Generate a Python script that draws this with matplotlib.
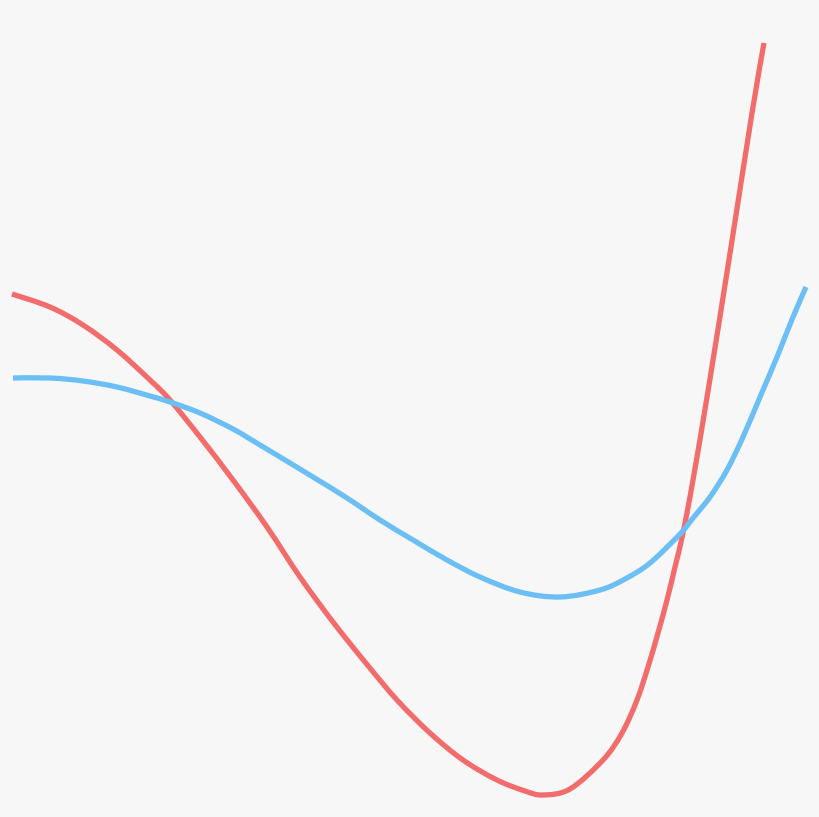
import numpy as np
import matplotlib
matplotlib.use("Agg")
import matplotlib.pyplot as plt
from matplotlib.path import Path
from matplotlib.patches import PathPatch

W, H = 820, 817

# values (x to the right, y upward, in picture units)
red_x = [12, 50, 83, 117, 150, 170, 200, 233, 267, 300, 333, 365, 397, 430,
         463, 497, 525, 543, 570, 603, 622, 637, 648, 658, 667, 675, 683,
         693, 709, 731, 752, 764]
red_y = [523, 510, 492, 467, 437, 417, 380, 337, 290, 240, 195, 155, 117, 84,
         57, 37, 26, 22, 28, 57, 84, 117, 150, 184, 217, 250, 284,
         337, 432, 570, 704, 774]

blue_x = [13, 50, 83, 117, 150, 170, 200, 233, 260, 280, 313, 347, 380, 413,
          447, 480, 520, 560, 600, 625, 650, 680, 693, 710, 727, 743,
          760, 777, 793, 806]
blue_y = [439, 439, 436, 430, 421, 415, 404, 388, 372, 360, 340, 319, 297, 277,
          257, 240, 225, 220, 227, 238, 254, 283, 299, 320, 347, 380,
          420, 460, 500, 530]


def smooth_path(xs, ys):
    # catmull-rom -> cubic bezier, curve passes through every read point
    p = np.column_stack([xs, ys]).astype(float)
    p = np.vstack([p[0], p, p[-1]])
    verts = [p[1]]
    codes = [Path.MOVETO]
    for i in range(1, len(p) - 2):
        c1 = p[i] + (p[i + 1] - p[i - 1]) / 6
        c2 = p[i + 1] - (p[i + 2] - p[i]) / 6
        verts += [c1, c2, p[i + 1]]
        codes += [Path.CURVE4] * 3
    return Path(verts, codes)


fig = plt.figure(figsize=(W / 100, H / 100), dpi=100)
fig.patch.set_facecolor("#f7f7f7")
ax = fig.add_axes([0, 0, 1, 1])
ax.set_facecolor("#f7f7f7")

for xs, ys, c in [(red_x, red_y, "#f26c6c"), (blue_x, blue_y, "#6cbff4")]:
    ax.add_patch(PathPatch(smooth_path(xs, ys), fc="none", ec=c, lw=3.8,
                           capstyle="butt", joinstyle="round"))

ax.set_xlim(0, W)
ax.set_ylim(0, H)
ax.axis("off")

fig.savefig("out.png", dpi=100, facecolor=fig.get_facecolor())
